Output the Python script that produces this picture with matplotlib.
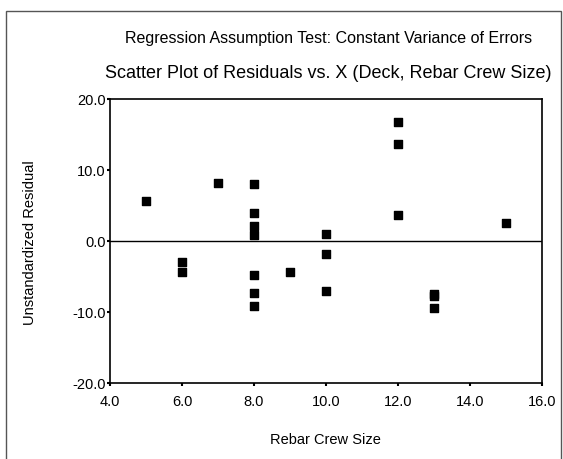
import matplotlib
matplotlib.use("Agg")
import matplotlib.pyplot as plt
from matplotlib.patches import Rectangle

plt.rcParams['font.family'] = ['Liberation Sans', 'DejaVu Sans']

crew_size = [5, 6, 6, 7, 8, 8, 8, 8, 8, 8, 8, 9, 10, 10, 10, 12, 12, 12, 13, 13, 13, 15]
residuals = [5.6, -3.0, -4.4, 8.1, 8.0, 3.9, 2.1, 0.8, -4.8, -7.3, -9.2, -4.3,
             1.0, -1.8, -7.0, 16.7, 13.6, 3.6, -7.4, -7.8, -9.5, 2.5]
x_ticks = [4, 6, 8, 10, 12, 14, 16]
y_ticks = [-20, -10, 0, 10, 20]
title1 = "Regression Assumption Test: Constant Variance of Errors"
title2 = "Scatter Plot of Residuals vs. X (Deck, Rebar Crew Size)"
xlabel = "Rebar Crew Size"
ylabel = "Unstandardized Residual"

fig = plt.figure(figsize=(5.63, 4.60), dpi=100)
ax = fig.add_axes([110/563, 1-384/460, (542-110)/563, (384-100)/460])

ax.scatter(crew_size, residuals, marker='s', s=30, color='black', zorder=3)
ax.axhline(0, color='black', linewidth=1.0, zorder=2)
ax.set_xlim(4, 16)
ax.set_ylim(-20, 20)
ax.set_xticks(x_ticks)
ax.set_yticks(y_ticks)
ax.set_xticklabels([f"{v:.1f}" for v in x_ticks])
ax.set_yticklabels([f"{v:.1f}" for v in y_ticks])
ax.tick_params(direction='out', length=2, width=1.5, labelsize=10.5)
ax.tick_params(axis='x', pad=6)
ax.tick_params(axis='y', pad=1)
for sp in ax.spines.values():
    sp.set_linewidth(1.2)

fig.text(329/563, 1-38/460, title1, ha='center', va='center', fontsize=11.5)
fig.text(328/563, 1-73/460, title2, ha='center', va='center', fontsize=13)
fig.text(325/563, 1-440/460, xlabel, ha='center', va='center', fontsize=10.5)
fig.text(30/563, 1-243/460, ylabel, ha='center', va='center', rotation=90, fontsize=10.5)

fig.patches.append(Rectangle((6/563, -10/460), 555/563, 458/460, transform=fig.transFigure,
                             fill=False, edgecolor='#555555', linewidth=1.0))

fig.savefig("out.png", dpi=100)
